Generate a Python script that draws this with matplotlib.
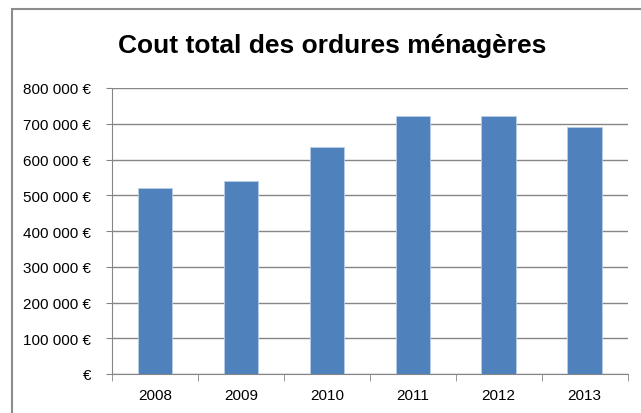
import matplotlib
matplotlib.use("Agg")
import matplotlib.pyplot as plt
from matplotlib.patches import Rectangle

years = ["2008", "2009", "2010", "2011", "2012", "2013"]
costs = [519000, 541000, 636000, 723000, 723000, 692000]
yticks = [0, 100000, 200000, 300000, 400000, 500000, 600000, 700000, 800000]


def euro(v):
    if v == 0:
        return "€"
    return "{:,}".format(v).replace(",", " ") + " €"


plt.rcParams['font.family'] = ['Liberation Sans', 'DejaVu Sans']

fig = plt.figure(figsize=(6.41, 4.14), dpi=100)
ax = fig.add_axes([112/641, 1-375/414, (627.5-112)/641, (375-89)/414])

# chart area border (runs off the right and bottom edges)
fig.add_artist(Rectangle((12/641, -0.05), 1.0, 1-10/414+0.05, transform=fig.transFigure,
                         fill=False, edgecolor="#8c8c8c", linewidth=1.5))

x = range(len(years))
ax.bar(x, costs, width=0.4, color="#4f81bd", edgecolor="#b9cde5", linewidth=0.6, zorder=3)

ax.set_xlim(-0.5, len(years)-0.5)
ax.set_ylim(0, 800000)
ax.set_yticks(yticks)
ax.set_yticklabels([euro(v) for v in yticks], fontsize=11)
ax.set_xticks(list(x))
ax.set_xticklabels(years, fontsize=11)
ax.tick_params(axis="x", length=0, pad=10)
ax.set_xticks([i + 0.5 for i in range(-1, len(years))], minor=True)
ax.tick_params(axis="x", which="minor", length=5, color="#868686", direction="out")
ax.tick_params(axis="y", length=4, color="#868686", pad=11)

ax.grid(axis="y", color="#868686", linewidth=1, zorder=0)
for s in ["top", "right"]:
    ax.spines[s].set_visible(False)
for s in ["left", "bottom"]:
    ax.spines[s].set_color("#868686")

fig.text(332/641, 1-46/414, "Cout total des ordures ménagères", ha="center", va="center",
         fontsize=19, fontweight="bold")

fig.savefig("out.png", dpi=100)
